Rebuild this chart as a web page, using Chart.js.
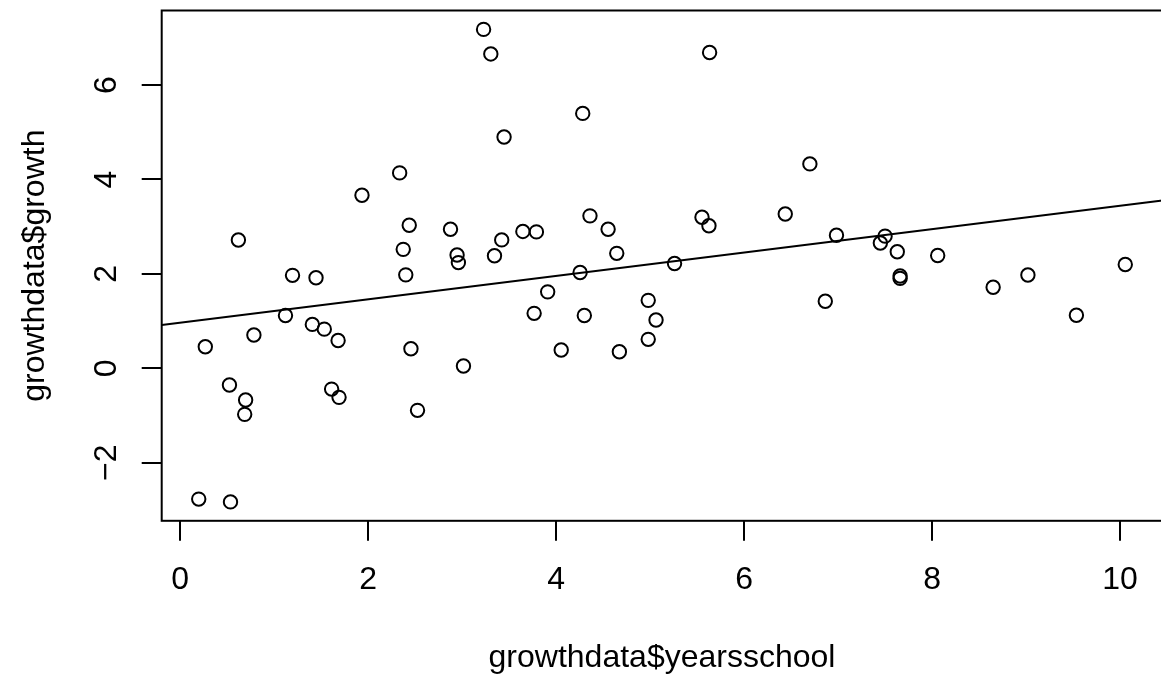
<!DOCTYPE html>
<html>
<head>
  <meta charset="utf-8">
  <title>growth vs years of school</title>
  <script src="https://cdn.jsdelivr.net/npm/chart.js"></script>
  <style>
    body {
      margin: 0;
      background: #ffffff;
    }
    /* the R plot region runs a few px past the right edge of the picture */
    .frame {
      width: 1161px;
      height: 675px;
      overflow: hidden;
    }
  </style>
</head>
<body>
  <div class="frame">
    <canvas id="scatter" width="1171" height="675"></canvas>
  </div>

  <script>
    // growthdata$yearsschool
    const yearsSchool = [
      0.197, 0.535, 0.267, 0.524, 0.696, 0.686, 0.619, 0.784, 1.12, 1.195,
      1.445, 1.406, 1.533, 1.68, 1.611, 1.69, 1.934, 2.335, 2.437, 2.373,
      2.40, 2.455, 2.525, 2.876, 2.946, 2.96, 3.014, 3.228, 3.305, 3.446,
      3.344, 3.421, 3.646, 3.79, 3.766, 3.91, 4.054, 4.255, 4.283, 4.30,
      4.36, 4.553, 4.645, 4.673, 4.98, 4.98, 5.063, 5.26, 5.552, 5.626,
      5.633, 6.438, 6.70, 6.864, 6.983, 7.45, 7.50, 7.63, 7.66, 7.66,
      8.06, 8.65, 9.02, 9.536, 10.056
    ];
    // growthdata$growth
    const growth = [
      -2.77, -2.83, 0.458, -0.354, -0.672, -0.975, 2.718, 0.705, 1.12, 1.97,
      1.92, 0.93, 0.83, 0.59, -0.44, -0.615, 3.665, 4.14, 3.03, 2.52,
      1.98, 0.415, -0.89, 2.945, 2.40, 2.24, 0.049, 7.18, 6.66, 4.90,
      2.385, 2.72, 2.90, 2.89, 1.165, 1.62, 0.388, 2.03, 5.40, 1.12,
      3.23, 2.945, 2.436, 0.352, 1.44, 0.614, 1.023, 2.22, 3.20, 3.02,
      6.69, 3.27, 4.33, 1.42, 2.82, 2.655, 2.80, 2.47, 1.955, 1.905,
      2.39, 1.716, 1.977, 1.123, 2.20
    ];
    // abline(lm(...)) read at the two edges of the plot region
    const fitX = [-0.197, 10.45];
    const fitY = [0.917, 3.554];

    const xTicks = [0, 2, 4, 6, 8, 10];
    const yTicks = [-2, 0, 2, 4, 6];
    const xRange = [-0.197, 10.45];
    const yRange = [-3.23, 7.58];

    const xLabel = 'growthdata$yearsschool';
    const yLabel = 'growthdata$growth';

    const FONT = { family: '"Liberation Sans", Arial, Helvetica, sans-serif', size: 32, lineHeight: 1 };

    // box round the plot region, like R's box()
    const boxPlugin = {
      id: 'box',
      afterDatasetsDraw(chart) {
        const { ctx, chartArea: a } = chart;
        ctx.save();
        ctx.strokeStyle = '#000';
        ctx.lineWidth = 2;
        ctx.strokeRect(a.left, a.top, a.right - a.left, a.bottom - a.top);
        ctx.restore();
      }
    };

    // fixed margins, no extra room asked for by the tick labels
    function fixSize(prop, size) {
      return s => {
        s[prop] = size;
        s.paddingTop = 0;
        s.paddingBottom = 0;
        s.paddingLeft = 0;
        s.paddingRight = 0;
      };
    }

    const minusSign = v => (v < 0 ? '\u2212' + Math.abs(v) : String(v));

    new Chart(document.getElementById('scatter'), {
      type: 'scatter',
      data: {
        datasets: [
          {
            label: 'fit',
            type: 'line',
            data: fitX.map((x, i) => ({ x: x, y: fitY[i] })),
            borderColor: '#000',
            borderWidth: 2,
            pointRadius: 0,
            fill: false
          },
          {
            label: 'points',
            data: yearsSchool.map((x, i) => ({ x: x, y: growth[i] })),
            pointStyle: 'circle',
            pointRadius: 6.7,
            pointBorderWidth: 2,
            pointBorderColor: '#000',
            pointBackgroundColor: 'rgba(0,0,0,0)'
          }
        ]
      },
      options: {
        responsive: false,
        animation: false,
        devicePixelRatio: 1,
        layout: { padding: { top: 10.5, right: 0.6, left: 0, bottom: 0 } },
        plugins: {
          legend: { display: false },
          tooltip: { enabled: false }
        },
        scales: {
          x: {
            type: 'linear',
            min: xRange[0],
            max: xRange[1],
            afterFit: fixSize('height', 154.2),
            afterBuildTicks: s => { s.ticks = xTicks.map(v => ({ value: v })); },
            border: { display: false },
            grid: { drawOnChartArea: false, color: '#000', lineWidth: 2, tickLength: 20, tickWidth: 2 },
            ticks: { color: '#000', font: FONT, padding: 23, maxRotation: 0, autoSkip: false, callback: minusSign },
            title: { display: true, text: xLabel, color: '#000', font: FONT, padding: { top: 0, bottom: 0.5 } }
          },
          y: {
            type: 'linear',
            min: yRange[0],
            max: yRange[1],
            afterFit: fixSize('width', 161.7),
            afterBuildTicks: s => { s.ticks = yTicks.map(v => ({ value: v })); },
            border: { display: false },
            grid: { drawOnChartArea: false, color: '#000', lineWidth: 2, tickLength: 20, tickWidth: 2 },
            ticks: { color: '#000', font: FONT, padding: 16.7, minRotation: 90, maxRotation: 90, crossAlign: 'center', autoSkip: false, callback: minusSign },
            title: { display: true, text: yLabel, color: '#000', font: FONT, padding: { top: 19, bottom: 0 } }
          }
        }
      },
      plugins: [boxPlugin]
    });
  </script>
</body>
</html>
